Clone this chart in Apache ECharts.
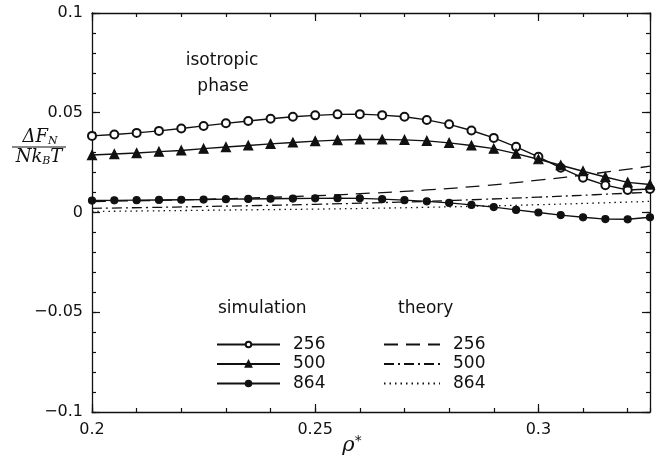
<!DOCTYPE html>
<html>
<head>
<meta charset="utf-8">
<script src="https://cdn.jsdelivr.net/npm/echarts@6/dist/echarts.min.js"></script>
<style>
html, body { margin: 0; padding: 0; background: #fff; }
#picture { width: 665px; height: 461px; }
</style>
</head>
<body>
<div id="picture"></div>
<script>
// simulation points, rho* from 0.2 to 0.325 every 0.005
var rho = [0.200, 0.205, 0.210, 0.215, 0.220, 0.225, 0.230, 0.235, 0.240, 0.245, 0.250, 0.255, 0.260,
           0.265, 0.270, 0.275, 0.280, 0.285, 0.290, 0.295, 0.300, 0.305, 0.310, 0.315, 0.320, 0.325];
var sim256 = [0.0384, 0.0391, 0.0399, 0.0409, 0.0421, 0.0434, 0.0447, 0.0459, 0.0470, 0.0480, 0.0487, 0.0492, 0.0493,
              0.0488, 0.0480, 0.0464, 0.0442, 0.0411, 0.0374, 0.0329, 0.0279, 0.0224, 0.0174, 0.0137, 0.0113, 0.0118];
var sim500 = [0.0288, 0.0293, 0.0298, 0.0305, 0.0311, 0.0320, 0.0328, 0.0336, 0.0344, 0.0351, 0.0358, 0.0363, 0.0366,
              0.0366, 0.0364, 0.0359, 0.0349, 0.0336, 0.0320, 0.0295, 0.0267, 0.0237, 0.0207, 0.0178, 0.0151, 0.0140];
var sim864 = [0.0060, 0.0061, 0.0062, 0.0063, 0.0064, 0.0065, 0.0067, 0.0068, 0.0069, 0.0070, 0.0071, 0.0072, 0.0071,
              0.0067, 0.0062, 0.0056, 0.0048, 0.0038, 0.0027, 0.0013, 0.0000, -0.0013, -0.0024, -0.0033, -0.0034, -0.0024];

// theory curves
var rhoTheory = [0.2, 0.2125, 0.225, 0.2375, 0.25, 0.2625, 0.275, 0.2875, 0.3, 0.3125, 0.325];
var th256 = [0.0055, 0.0060, 0.0066, 0.0074, 0.0084, 0.0097, 0.0113, 0.0134, 0.0162, 0.0195, 0.0232];
var th500 = [0.0021, 0.0025, 0.0030, 0.0035, 0.0041, 0.0048, 0.0056, 0.0066, 0.0077, 0.0089, 0.0102];
var th864 = [0.0005, 0.0008, 0.0011, 0.0014, 0.0017, 0.0021, 0.0026, 0.0032, 0.0039, 0.0047, 0.0056];

var simNames = ['sim 256', 'sim 500', 'sim 864'];
var theoryNames = ['theory 256', 'theory 500', 'theory 864'];

function pairs(xs, ys) {
    return xs.map(function (x, i) { return [x, ys[i]]; });
}

function numLabel(v) {
    var a = parseFloat(Math.abs(v).toFixed(4));
    if (a === 0) return '0';
    return (v < 0 ? '\u2212' : '') + a;
}

var black = '#111';
var lblFont = { color: black, fontSize: 16, fontFamily: 'DejaVu Sans' };

function xAx(pos, step, tickLen, labels) {
    return {
        type: 'value', min: 0.2, max: 0.325, interval: step, position: pos,
        axisLine: { show: step === 0.05, onZero: false, lineStyle: { color: black, width: 1.3 } },
        axisTick: { show: true, inside: true, length: tickLen, lineStyle: { color: black, width: 1.2 } },
        axisLabel: labels ? Object.assign({ show: true, margin: 10, showMaxLabel: false, formatter: numLabel }, lblFont) : { show: false },
        splitLine: { show: false }
    };
}
function yAx(pos, step, tickLen, labels) {
    return {
        type: 'value', min: -0.1, max: 0.1, interval: step, position: pos,
        axisLine: { show: step === 0.05, onZero: false, lineStyle: { color: black, width: 1.3 } },
        axisTick: { show: true, inside: true, length: tickLen, lineStyle: { color: black, width: 1.2 } },
        axisLabel: labels ? Object.assign({ show: true, margin: 9, formatter: numLabel }, lblFont) : { show: false },
        splitLine: { show: false }
    };
}

function simSeries(name, ys, symbol, size) {
    return {
        name: name, type: 'line', data: pairs(rho, ys),
        symbol: symbol, symbolSize: size,
        lineStyle: { color: black, width: 1.4 },
        itemStyle: { color: black, borderColor: black, borderWidth: 1.2 },
        z: 5
    };
}
function theorySeries(name, ys, dash) {
    return {
        name: name, type: 'line', data: pairs(rhoTheory, ys),
        smooth: true, showSymbol: false, symbol: 'none',
        lineStyle: { color: black, width: 1.3, type: dash },
        itemStyle: { color: black },
        z: 3
    };
}

var legendText = { color: black, fontSize: 17, fontFamily: 'DejaVu Sans', padding: [0, 0, 0, 8], lineHeight: 17 };

var myChart = echarts.init(document.getElementById('picture'));
var option = {
    backgroundColor: '#fff',
    animation: false,
    grid: { left: 92, right: 15, top: 13, bottom: 49 },
    xAxis: [
        xAx('bottom', 0.05, 8, true),
        xAx('bottom', 0.01, 4, false),
        xAx('top', 0.05, 8, false),
        xAx('top', 0.01, 4, false)
    ],
    yAxis: [
        yAx('left', 0.05, 8, true),
        yAx('left', 0.01, 4, false),
        yAx('right', 0.05, 8, false),
        yAx('right', 0.01, 4, false)
    ],
    legend: [
        {
            data: simNames, orient: 'vertical', left: 216, top: 336, padding: 0,
            itemWidth: 63, itemHeight: 7, itemGap: 2.5,
            formatter: function (n) { return n.split(' ')[1]; },
            textStyle: legendText
        },
        {
            data: theoryNames.map(function (n) { return { name: n, itemStyle: { opacity: 0 } }; }),
            orient: 'vertical', left: 383, top: 336, padding: 0,
            itemWidth: 56, itemHeight: 7, itemGap: 2.5,
            formatter: function (n) { return n.split(' ')[1]; },
            textStyle: legendText
        }
    ],
    graphic: [
        { type: 'text', left: 218, top: 300, style: { text: 'simulation', fill: black, font: '17px "DejaVu Sans"' } },
        { type: 'text', left: 398, top: 300, style: { text: 'theory', fill: black, font: '17px "DejaVu Sans"' } },
        { type: 'text', x: 222, y: 61, style: { text: 'isotropic', fill: black, font: '17px "DejaVu Sans"', align: 'center', verticalAlign: 'middle' } },
        { type: 'text', x: 223, y: 87, style: { text: 'phase', fill: black, font: '17px "DejaVu Sans"', align: 'center', verticalAlign: 'middle' } },
        { type: 'text', x: 40, y: 137, style: {
            text: '{m|\u0394F}{s|N}', align: 'center', verticalAlign: 'middle',
            rich: { m: { fontSize: 18, fontStyle: 'italic', fontFamily: 'DejaVu Serif', fill: black },
                    s: { fontSize: 11, fontStyle: 'italic', fontFamily: 'DejaVu Serif', fill: black, verticalAlign: 'bottom', padding: [8, 0, 0, 0] } } } },
        { type: 'line', shape: { x1: 12, y1: 147, x2: 66, y2: 147 }, style: { stroke: black, lineWidth: 1.2 } },
        { type: 'text', x: 39, y: 157, style: {
            text: '{m|Nk}{s|B}{m|T}', align: 'center', verticalAlign: 'middle',
            rich: { m: { fontSize: 18, fontStyle: 'italic', fontFamily: 'DejaVu Serif', fill: black },
                    s: { fontSize: 11, fontStyle: 'italic', fontFamily: 'DejaVu Serif', fill: black, padding: [8, 0, 0, 0] } } } },
        { type: 'text', x: 352, y: 446, style: {
            text: '{m|\u03C1}{s|*}', align: 'center', verticalAlign: 'middle',
            rich: { m: { fontSize: 21, fontStyle: 'italic', fontFamily: 'DejaVu Serif', fill: black },
                    s: { fontSize: 14, fontFamily: 'DejaVu Sans', fill: black, padding: [0, 0, 10, 0] } } } }
    ],
    series: [
        simSeries('sim 256', sim256, 'emptyCircle', 8),
        simSeries('sim 500', sim500, 'triangle', 9),
        simSeries('sim 864', sim864, 'circle', 7),
        theorySeries('theory 256', th256, [14, 8]),
        theorySeries('theory 500', th500, [10, 4, 2, 4]),
        theorySeries('theory 864', th864, [1.5, 4])
    ]
};
myChart.setOption(option);
</script>
</body>
</html>
